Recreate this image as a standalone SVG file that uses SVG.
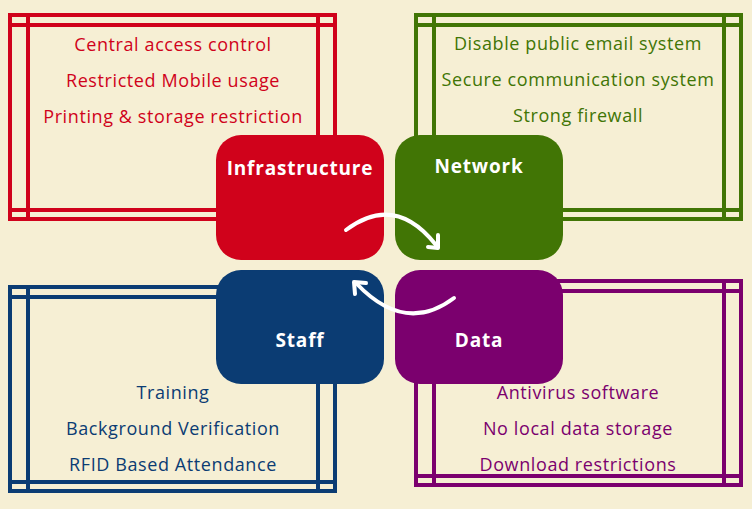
<svg xmlns="http://www.w3.org/2000/svg" width="752" height="509" viewBox="0 0 752 509">
<style>
.f{fill:none;stroke-width:4}
.t{font-family:"Open Sans",sans-serif;font-size:18px;letter-spacing:0.6px;text-anchor:middle}
.h{font-family:"Open Sans",sans-serif;font-size:19px;font-weight:bold;letter-spacing:0.8px;fill:#fff;text-anchor:middle}
.a{fill:none;stroke:#fff;stroke-width:4;stroke-linecap:round;stroke-linejoin:round}
</style>
<rect width="752" height="509" fill="#f6efd4"/>
<g id="frame-infra" stroke="#d0021b" class="f"><rect x="10" y="15" width="325" height="204"/><rect x="10" y="25" width="325" height="185"/><rect x="28" y="15" width="290" height="204"/></g>
<g id="frame-net" stroke="#417505" class="f"><rect x="416" y="15" width="325" height="204"/><rect x="416" y="25" width="325" height="185"/><rect x="434" y="15" width="290" height="204"/></g>
<g id="frame-staff" stroke="#0b3c73" class="f"><rect x="10" y="287" width="325" height="204"/><rect x="10" y="297" width="325" height="185"/><rect x="28" y="287" width="290" height="204"/></g>
<g id="frame-data" stroke="#7b006e" class="f"><rect x="416" y="281" width="325" height="204"/><rect x="416" y="291" width="325" height="185"/><rect x="434" y="281" width="290" height="204"/></g>
<g id="infra"><rect x="216" y="135" width="168" height="125" rx="25" fill="#d0021b"/><text class="h" x="300" y="175">Infrastructure</text>
<g fill="#d0021b" class="t"><text x="173" y="51">Central access control</text><text x="173" y="87">Restricted Mobile usage</text><text x="173" y="123">Printing &amp; storage restriction</text></g></g>
<g id="network"><rect x="395" y="135" width="168" height="125" rx="25" fill="#417505"/><text class="h" x="479" y="173">Network</text>
<g fill="#417505" class="t"><text x="578" y="50">Disable public email system</text><text x="578" y="86">Secure communication system</text><text x="578" y="122">Strong firewall</text></g></g>
<g id="staff"><rect x="216" y="270" width="168" height="114" rx="25" fill="#0b3c73"/><text class="h" x="300" y="347">Staff</text>
<g fill="#0b3c73" class="t"><text x="173" y="399">Training</text><text x="173" y="435">Background Verification</text><text x="173" y="471">RFID Based Attendance</text></g></g>
<g id="data"><rect x="395" y="270" width="168" height="114" rx="25" fill="#7b006e"/><text class="h" x="479" y="347">Data</text>
<g fill="#7b006e" class="t"><text x="578" y="399">Antivirus software</text><text x="578" y="435">No local data storage</text><text x="578" y="471">Download restrictions</text></g></g>
<g id="connectors">
<path class="a" d="M346 230 Q395 193 436 245"/><path class="a" d="M428 247 L438 248 L438 235"/>
<path class="a" d="M454 298 Q405 335 356 283"/><path class="a" d="M355 294 L354 282 L366 283"/>
</g>
</svg>
